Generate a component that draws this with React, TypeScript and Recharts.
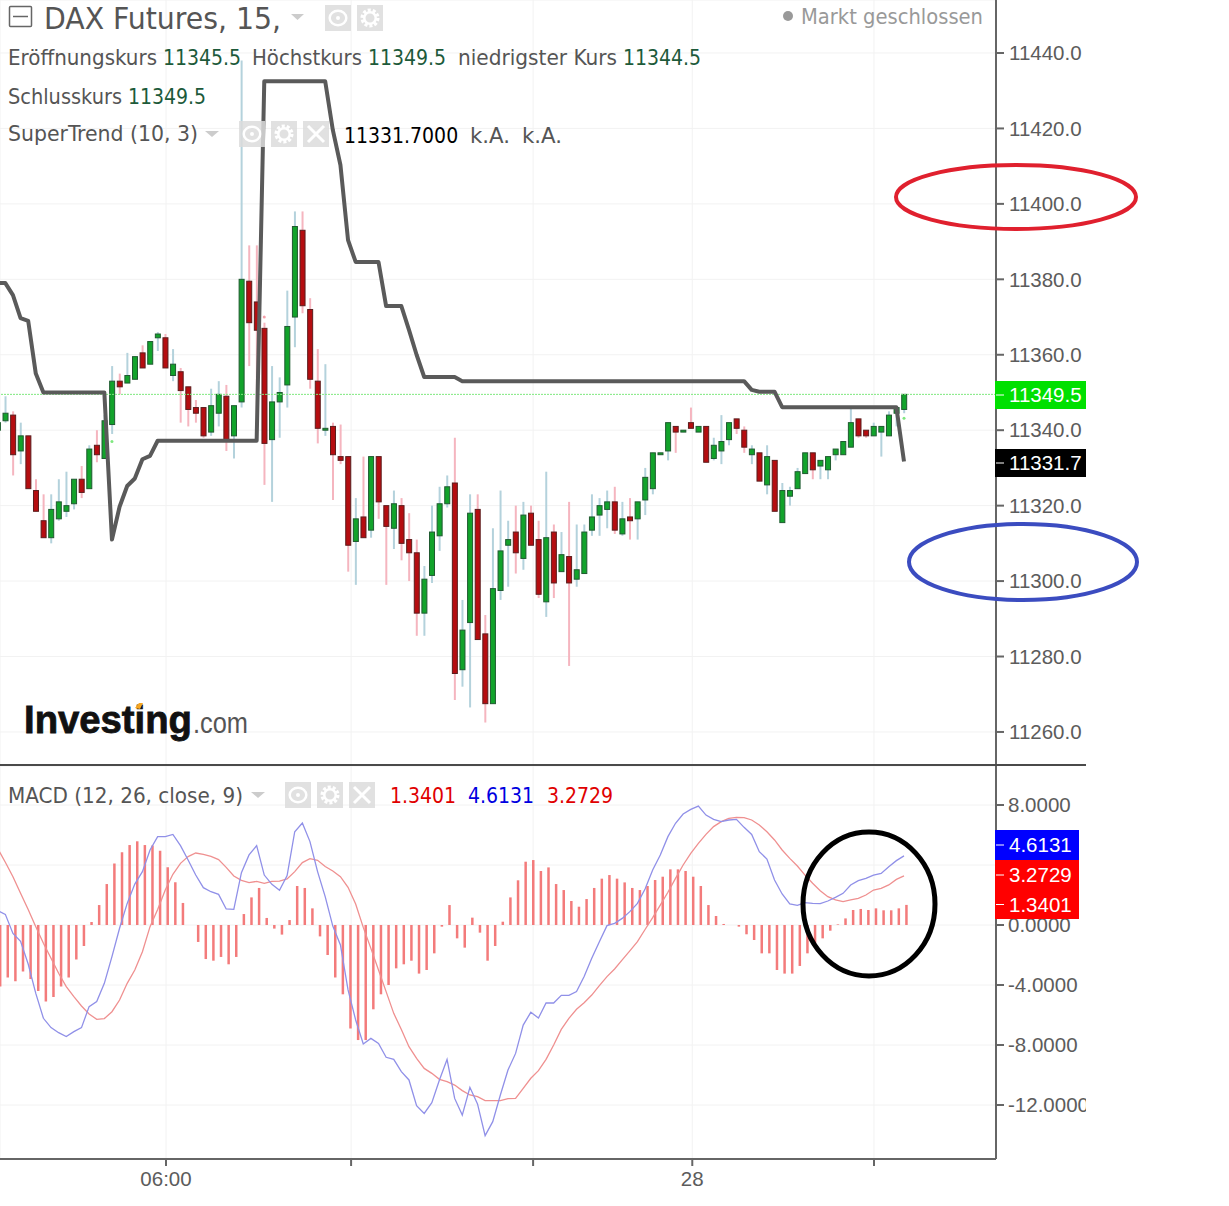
import React from 'react';
import { ComposedChart, Bar, Line, XAxis, YAxis, CartesianGrid, ReferenceLine, ReferenceDot } from 'recharts';

const opens = [
  11340, 11342.5, 11344, 11334.5, 11338.5, 11324, 11316, 11311.5, 11316.5, 11318.5,
  11320.5, 11327, 11324.5, 11336, 11332.5, 11341.5, 11353, 11352.5, 11353.5, 11360.5,
  11357.5, 11364.5, 11364.5, 11354.5, 11355.5, 11351.5, 11346, 11346, 11339.5, 11344.5,
  11349, 11338.5, 11347.5, 11379.5, 11374, 11367, 11337.5, 11347.5, 11352, 11370,
  11393, 11372, 11353, 11340, 11341, 11333, 11333, 11310.5, 11317, 11313.5,
  11333, 11320, 11314, 11320, 11311, 11307.5, 11291.5, 11301.5, 11312, 11320.5,
  11326, 11276.5, 11289, 11319, 11286, 11267.5, 11297.5, 11309.5, 11313, 11306,
  11318, 11311, 11294.5, 11313, 11302.5, 11306.5, 11300.5, 11302, 11313.5, 11317.5,
  11319, 11321, 11312.5, 11317, 11316.5, 11321.5, 11324.5, 11333.5, 11334.5, 11341,
  11339.5, 11342, 11339.5, 11341, 11332.5, 11334.5, 11337.5, 11343, 11340, 11333.5,
  11334, 11325.5, 11332, 11315.5, 11322.5, 11324.5, 11328.5, 11334, 11330.5, 11329.5,
  11333.5, 11333.5, 11335.5, 11343, 11340, 11338.5, 11339.5, 11338.5, 11344.5, 11345.5,
];
const highs = [
  11342.5, 11349, 11345, 11342, 11338.5, 11327, 11323, 11323, 11327, 11329,
  11327, 11330.5, 11336, 11340, 11344, 11357, 11355, 11360.5, 11359.5, 11362.5,
  11363.5, 11366, 11365.5, 11361.5, 11356.5, 11351.5, 11348, 11346, 11351, 11353,
  11352, 11346.5, 11438, 11389, 11389, 11368.5, 11357, 11354, 11377, 11398,
  11398, 11375, 11361.5, 11357.5, 11342, 11341.5, 11333, 11322, 11333, 11333,
  11333, 11320, 11324, 11322, 11318, 11311, 11304, 11320, 11325, 11328,
  11338, 11295, 11323, 11323, 11291, 11314, 11324, 11316, 11320, 11321,
  11320, 11316, 11329, 11315, 11313, 11321, 11315, 11315, 11323, 11322,
  11324, 11325, 11321, 11322, 11321, 11330, 11334, 11334, 11342, 11341,
  11340, 11346, 11341, 11341, 11338, 11344, 11342, 11343, 11341, 11336,
  11334, 11336, 11332, 11326, 11325, 11330, 11334, 11334, 11332, 11333,
  11335, 11337, 11346, 11343, 11340, 11342, 11341, 11345, 11346, 11349.5,
];
const lows = [
  11339, 11342, 11328, 11331, 11324.5, 11318.5, 11311.5, 11310, 11316, 11317,
  11319, 11322, 11324.5, 11331.5, 11332.5, 11339, 11349.5, 11352.5, 11353.5, 11356.5,
  11357.5, 11361, 11356.5, 11353, 11342, 11341, 11342, 11338, 11338.5, 11341,
  11334.5, 11332.5, 11346, 11357, 11343.5, 11325.5, 11321, 11338, 11346, 11362,
  11371, 11351, 11336.5, 11338.5, 11321.5, 11331, 11302.5, 11299, 11311.5, 11311.5,
  11316.5, 11299, 11308.5, 11305.5, 11300, 11285.5, 11285.5, 11299.5, 11308, 11319.5,
  11268.5, 11272, 11266.5, 11284.5, 11262.5, 11267.5, 11295, 11298.5, 11302, 11303,
  11309.5, 11295.5, 11290.5, 11295.5, 11302.5, 11277.5, 11298.5, 11302, 11312, 11312,
  11314, 11312.5, 11312, 11311, 11311, 11317.5, 11323, 11333.5, 11332, 11334,
  11339.5, 11340.5, 11339.5, 11331.5, 11332, 11331, 11336, 11339, 11334, 11331,
  11326.5, 11323, 11318.5, 11315.5, 11320, 11324.5, 11328.5, 11327, 11327, 11327,
  11332, 11333.5, 11335.5, 11338, 11338, 11338.5, 11333, 11338.5, 11341, 11344.5,
];
const closes = [
  11342, 11344.5, 11333.5, 11338.5, 11324.5, 11318.5, 11311.5, 11319, 11321, 11320,
  11327, 11323.5, 11335, 11333.5, 11342.5, 11353, 11351.5, 11354.5, 11359.5, 11356.5,
  11363.5, 11365.5, 11356.5, 11357.5, 11350.5, 11345.5, 11344.5, 11338.5, 11346.5, 11349.5,
  11337.5, 11346.5, 11380, 11368.5, 11366.5, 11336.5, 11347.5, 11350, 11367.5, 11394,
  11373, 11353.5, 11340.5, 11340.5, 11333.5, 11332, 11309.5, 11316.5, 11311.5, 11333,
  11321, 11314.5, 11320.5, 11310, 11307.5, 11291.5, 11300.5, 11313, 11320.5, 11325,
  11275.5, 11287, 11318, 11284.5, 11267.5, 11298, 11308, 11311, 11307.5, 11317.5,
  11309.5, 11296.5, 11311.5, 11299.5, 11307, 11299.5, 11303, 11313, 11317, 11320,
  11321, 11313.5, 11316.5, 11316, 11321, 11327.5, 11334, 11334, 11342, 11339.5,
  11340, 11340.5, 11341, 11331.5, 11336, 11337, 11342, 11340.5, 11335.5, 11335,
  11326.5, 11333, 11318.5, 11324, 11324, 11329, 11334, 11329.5, 11332, 11333,
  11335, 11337, 11342, 11338.5, 11338.5, 11341, 11341, 11344, 11346, 11349.5,
];
const superTrend = [
  11379, 11379, 11375.8, 11369.7, 11369, 11355, 11350, 11350, 11350, 11350,
  11350, 11350, 11350, 11350, 11350, 11311, 11319.7, 11325.2, 11327.2, 11332.3,
  11333.2, 11337.2, 11337.2, 11337.2, 11337.2, 11337.2, 11337.2, 11337.2, 11337.2, 11337.2,
  11337.2, 11337.2, 11337.2, 11337.2, 11337.2, 11432.5, 11432.5, 11432.5, 11432.5, 11432.5,
  11432.5, 11432.5, 11432.5, 11432.5, 11419.6, 11410.3, 11390.4, 11384.6, 11384.6, 11384.6,
  11384.6, 11372.9, 11372.9, 11372.9, 11366.6, 11360, 11354.1, 11354.1, 11354.1, 11354.1,
  11354.1, 11353, 11353, 11353, 11353, 11353, 11353, 11353, 11353, 11353,
  11353, 11353, 11353, 11353, 11353, 11353, 11353, 11353, 11353, 11353,
  11353, 11353, 11353, 11353, 11353, 11353, 11353, 11353, 11353, 11353,
  11353, 11353, 11353, 11353, 11353, 11353, 11353, 11353, 11353, 11350.7,
  11350.2, 11350.2, 11350.2, 11346.1, 11346.1, 11346.1, 11346.1, 11346.1, 11346.1, 11346.1,
  11346.1, 11346.1, 11346.1, 11346.1, 11346.1, 11346.1, 11346.1, 11346.1, 11346.1, 11331.7,
];
const histogram = [
  -4.1, -3.5, -3.75, -3.1, -3.6, -4.4, -5.1, -4.8, -4.1, -3.5,
  -2.3, -1.4, 0.2, 1.33, 2.73, 4.1, 4.85, 5.33, 5.58, 5.33,
  5.3, 4.95, 3.85, 2.85, 1.47, 0, -1.13, -2.27, -2.38, -2.13,
  -2.62, -2.13, 0.73, 1.84, 2.47, 0.47, -0.24, -0.64, 0.33, 2.6,
  2.47, 1.11, -0.76, -2, -3.5, -4.62, -6.9, -7.67, -7.67, -5.62,
  -4.62, -4, -2.89, -2.62, -2.38, -3.24, -3, -1.89, -0.11, 1.33,
  -0.89, -1.51, 0.49, -0.51, -2.38, -1.4, 0.22, 1.84, 2.98, 4.22,
  4.33, 3.6, 3.84, 2.73, 2.33, 1.6, 1.22, 1.73, 2.47, 3.09,
  3.33, 3.09, 2.84, 2.47, 2.33, 2.6, 3, 3.22, 3.71, 3.71,
  3.6, 3.22, 2.6, 1.33, 0.6, 0.07, 0, -0.11, -0.62, -1,
  -1.89, -1.89, -3, -3.24, -3.24, -2.73, -1.89, -1.22, -0.89, -0.38,
  0.04, 0.44, 1, 1.07, 1, 1.11, 0.98, 0.98, 1.11, 1.34,
];
const macdLine = [
  0.96, 0.71, -0.56, -1.09, -2.6, -4.56, -6.22, -6.84, -7.18, -7.44,
  -7.11, -6.84, -5.44, -5.1, -3.89, -2.11, -0.22, 1.44, 2.73, 3.56,
  5, 5.89, 5.89, 6.04, 5.29, 4.33, 3.33, 2.49, 2.22, 2.04,
  1.07, 1.04, 3.49, 4.67, 5.29, 3.33, 2.71, 2.31, 3.29, 6.22,
  6.8, 5.56, 3.56, 1.89, -0.07, -1.33, -4.33, -6.33, -7.93, -7.56,
  -7.89, -8.82, -8.96, -9.78, -10.33, -12.04, -12.56, -11.84, -10.33, -8.96,
  -11.56, -12.67, -10.82, -11.93, -14.04, -13.11, -11.33, -9.67, -8.56, -6.67,
  -5.82, -6.2, -5.2, -5.2, -4.69, -4.69, -4.44, -3.44, -2.22, -1.11,
  -0.04, 0.11, 0.44, 0.89, 1.44, 2.4, 3.67, 4.67, 5.89, 6.78,
  7.4, 7.71, 7.93, 7.33, 7.04, 6.89, 7, 7.04, 6.51, 6.04,
  4.89, 4.4, 3, 2.07, 1.4, 1.31, 1.49, 1.44, 1.42, 1.6,
  1.84, 2.11, 2.67, 2.96, 3.11, 3.33, 3.44, 3.89, 4.29, 4.61,
];
const signalLine = [
  5.11, 4.18, 3.22, 2.11, 1.04, -0.11, -1.22, -2.22, -3.22, -4.11,
  -4.78, -5.4, -5.93, -6.29, -6.24, -5.78, -5, -3.89, -3, -1.78,
  -0.11, 1.04, 2.33, 3.38, 4.11, 4.56, 4.8, 4.71, 4.58, 4.36,
  3.84, 3.27, 2.98, 2.82, 2.91, 2.78, 2.91, 2.93, 3.07, 3.56,
  4.16, 4.42, 4.31, 3.9, 3.6, 3.22, 2.51, 1.4, -0.16, -1.56,
  -3, -4.44, -5.89, -6.96, -8.11, -8.89, -9.56, -9.89, -10.29, -10.44,
  -10.67, -11.04, -11.33, -11.44, -11.71, -11.71, -11.71, -11.58, -11.56, -10.89,
  -10.22, -9.71, -8.96, -8, -6.96, -6.22, -5.62, -5.18, -4.67, -4.04,
  -3.44, -2.93, -2.33, -1.73, -1.11, -0.3, 0.49, 1.33, 2.18, 3.11,
  4, 4.78, 5.44, 6.04, 6.56, 6.89, 7.11, 7.18, 7.16, 7,
  6.67, 6.22, 5.67, 5, 4.44, 3.93, 3.33, 2.78, 2.29, 1.89,
  1.67, 1.56, 1.67, 1.78, 2, 2.33, 2.44, 2.67, 3.04, 3.27,
];

const priceTicks = [11260, 11280, 11300, 11320, 11340, 11360, 11380, 11400, 11420, 11440];
const macdTicks = [-12, -8, -4, 0, 4, 8];
const timeTicks = [22.1, 46.4, 70.3, 91.2, 115.06];
const timeLabels = ['06:00', '', '', '28', ''];

const candles = opens.map((o, i) => ({
  idx: i,
  open: o,
  close: closes[i],
  range: [lows[i], highs[i]],
  superTrend: superTrend[i],
}));
const macdRows = histogram.map((h, i) => ({ idx: i, hist: h, macd: macdLine[i], signal: signalLine[i] }));

const X_DOMAIN: [number, number] = [0.3, 131.08];
// histogram sits 2px right of the lines in the original
const HIST_DOMAIN: [number, number] = [0.3 - 0.263, 131.08 - 0.263];
const AXIS_FONT = '"Liberation Sans", Arial, sans-serif';
const UI_FONT = '"DejaVu Sans Condensed", "DejaVu Sans", sans-serif';

const Candle = (props: any) => {
  const { x, y, width, height, payload } = props;
  const [low, high] = payload.range;
  const unit = height / (high - low);
  const up = payload.close >= payload.open;
  const top = y + (high - Math.max(payload.open, payload.close)) * unit;
  const bottom = y + (high - Math.min(payload.open, payload.close)) * unit;
  const cx = x + width / 2;
  return (
    <g>
      <line x1={cx} x2={cx} y1={y} y2={y + height} stroke={up ? '#b4d2dc' : '#f5b5bf'} strokeWidth={2} />
      <rect
        x={cx - 2.5}
        y={top}
        width={5}
        height={Math.max(bottom - top, 1)}
        fill={up ? '#12a32b' : '#b50d10'}
        stroke={up ? '#1f5a30' : '#5a1d1d'}
        strokeWidth={1}
      />
    </g>
  );
};

const axisTick = { fill: '#5c5c5c', fontSize: 20.5, fontFamily: AXIS_FONT };

const T = ({ x, y, size = 21, fill = '#555', font = UI_FONT, len, children, ...rest }: any) => (
  <text
    x={x}
    y={y}
    fontSize={size}
    fill={fill}
    fontFamily={font}
    textLength={len}
    lengthAdjust={len ? 'spacingAndGlyphs' : undefined}
    {...rest}
  >
    {children}
  </text>
);

const IconBox = ({ x, y, size, kind }: any) => {
  const cx = x + size / 2;
  const cy = y + size / 2;
  return (
    <g opacity={0.85}>
      <rect x={x} y={y} width={size} height={size} fill="#dcdcdc" />
      {kind === 'eye' && (
        <g>
          <ellipse cx={cx} cy={cy} rx={size * 0.32} ry={size * 0.28} fill="none" stroke="#fff" strokeWidth={2.5} />
          <circle cx={cx} cy={cy} r={2} fill="#fff" />
        </g>
      )}
      {kind === 'gear' && (
        <g>
          <circle cx={cx} cy={cy} r={size * 0.3} fill="none" stroke="#fff" strokeWidth={3.5} strokeDasharray="3 1.9" />
          <circle cx={cx} cy={cy} r={size * 0.22} fill="none" stroke="#fff" strokeWidth={2.5} />
        </g>
      )}
      {kind === 'x' && (
        <path d={`M${x + 5} ${y + 5}L${x + size - 5} ${y + size - 5}M${x + size - 5} ${y + 5}L${x + 5} ${y + size - 5}`} stroke="#fff" strokeWidth={3} />
      )}
    </g>
  );
};

const Tag = ({ y, h, w, fill, text }: any) => (
  <g>
    <rect x={995} y={y} width={w + 1} height={h} fill={fill} />
    <line x1={996} x2={1004} y1={y + h / 2} y2={y + h / 2} stroke="#fff" strokeWidth={1} />
    <T x={1009} y={y + h / 2 + 7} size={20.5} fill="#fff" font={AXIS_FONT}>{text}</T>
  </g>
);

const App = () => {
  return (
    <div style={{ position: 'absolute', left: 0, top: 0, width: 1229, height: 1206, background: '#fff', overflow: 'hidden' }}>
      <div style={{ position: 'absolute', left: 0, top: 0 }}>
        <ComposedChart width={1086} height={765} data={candles} margin={{ top: 0, right: 0, bottom: 0, left: 0 }}>
          <CartesianGrid stroke="#f2f2f2" strokeWidth={1} />
          <XAxis dataKey="idx" type="number" domain={X_DOMAIN} allowDataOverflow ticks={timeTicks} hide />
          <YAxis
            orientation="right"
            width={90}
            domain={[11251.24, 11454.05]}
            allowDataOverflow
            ticks={priceTicks}
            interval={0}
            tickFormatter={(v: number) => v.toFixed(1)}
            tick={axisTick}
            tickSize={8}
            tickMargin={5}
            axisLine={{ stroke: '#666', strokeWidth: 2 }}
            tickLine={{ stroke: '#666', strokeWidth: 2 }}
          />
          <ReferenceLine y={11349.5} stroke="#7fe87f" strokeDasharray="2 1" />
          <Line dataKey="superTrend" stroke="#5a5a5a" strokeWidth={4} dot={false} isAnimationActive={false} strokeLinejoin="round" />
          <Bar dataKey="range" barSize={6} shape={<Candle />} isAnimationActive={false} />
          <ReferenceDot x={35} y={11370} r={1.5} fill="#f5a0aa" stroke="none" />
          <ReferenceDot x={15} y={11337} r={1.5} fill="#7fe87f" stroke="none" />
          <ReferenceDot x={119} y={11343.2} r={1.5} fill="#7fe87f" stroke="none" />
        </ComposedChart>
      </div>
      <div style={{ position: 'absolute', left: 0, top: 766 }}>
        <ComposedChart width={1086} height={440} data={macdRows} margin={{ top: 0, right: 0, bottom: 0, left: 0 }}>
          <CartesianGrid stroke="#f2f2f2" strokeWidth={1} />
          <XAxis
            dataKey="idx"
            type="number"
            domain={X_DOMAIN}
            allowDataOverflow
            ticks={timeTicks}
            interval={0}
            height={47}
            tickFormatter={(v: number) => timeLabels[timeTicks.indexOf(v)]}
            tick={axisTick}
            tickSize={7}
            tickMargin={5}
            axisLine={{ stroke: '#666', strokeWidth: 2 }}
            tickLine={{ stroke: '#666', strokeWidth: 2 }}
          />
          <XAxis xAxisId="hist" dataKey="idx" type="number" domain={HIST_DOMAIN} allowDataOverflow hide />
          <YAxis
            orientation="right"
            width={90}
            domain={[-15.6, 10.6]}
            allowDataOverflow
            ticks={macdTicks}
            interval={0}
            tickFormatter={(v: number) => (v === 4 ? '' : v.toFixed(4))}
            tick={axisTick}
            tickSize={8}
            tickMargin={4}
            axisLine={{ stroke: '#666', strokeWidth: 2 }}
            tickLine={{ stroke: '#666', strokeWidth: 2 }}
          />
          <Bar xAxisId="hist" dataKey="hist" fill="#f37b7b" barSize={2.5} isAnimationActive={false} />
          <Line dataKey="signal" stroke="#ef9090" strokeWidth={1.3} dot={false} isAnimationActive={false} />
          <Line dataKey="macd" stroke="#9090e8" strokeWidth={1.3} dot={false} isAnimationActive={false} />
        </ComposedChart>
      </div>

      <svg width={1229} height={1206} style={{ position: 'absolute', left: 0, top: 0, pointerEvents: 'none' }}>
        <line x1={0} x2={1086} y1={765} y2={765} stroke="#4a4a4a" strokeWidth={2} />

        <rect x={9.5} y={6.5} width={22} height={20} fill="none" stroke="#666" strokeWidth={1.5} rx={1} />
        <line x1={13} x2={28} y1={16.5} y2={16.5} stroke="#666" strokeWidth={1.5} />
        <T x={44} y={29} size={31} len={237}>DAX Futures, 15,</T>
        <path d="M291 14h13l-6.5 6z" fill="#ccc" />
        <IconBox x={325} y={5} size={26} kind="eye" />
        <IconBox x={357} y={5} size={26} kind="gear" />
        <circle cx={788} cy={16} r={5} fill="#999" />
        <T x={801} y={24} fill="#999" len={182}>Markt geschlossen</T>

        <T x={8} y={65} len={149}>Eröffnungskurs</T>
        <T x={163} y={65} fill="#1d5a3a">11345.5</T>
        <T x={252} y={65} len={110}>Höchstkurs</T>
        <T x={368} y={65} fill="#1d5a3a">11349.5</T>
        <T x={458} y={65} len={159}>niedrigster Kurs</T>
        <T x={623} y={65} fill="#1d5a3a">11344.5</T>
        <T x={8} y={104} len={114}>Schlusskurs</T>
        <T x={128} y={104} fill="#1d5a3a">11349.5</T>
        <T x={8} y={141} len={190}>SuperTrend (10, 3)</T>
        <path d="M205 131h14l-7 6z" fill="#ccc" />
        <IconBox x={239} y={121} size={26} kind="eye" />
        <IconBox x={271} y={121} size={26} kind="gear" />
        <IconBox x={303} y={121} size={26} kind="x" />
        <T x={344} y={143} fill="#000">11331.7000</T>
        <T x={470} y={143} len={40}>k.A.</T>
        <T x={522} y={143} len={40}>k.A.</T>

        <T x={24} y={733} size={38} fontWeight="bold" fill="#111" stroke="#111" strokeWidth={0.8} font={AXIS_FONT} len={168}>Investing</T>
        <path d="M135 708l4-5h4l-3 6z" fill="#f5a623" />
        <T x={193} y={733} size={29} fill="#555" font={AXIS_FONT} len={55}>.com</T>

        <T x={8} y={803} len={235}>MACD (12, 26, close, 9)</T>
        <path d="M251 792h14l-7 6z" fill="#ccc" />
        <IconBox x={285} y={782} size={26} kind="eye" />
        <IconBox x={317} y={782} size={26} kind="gear" />
        <IconBox x={349} y={782} size={26} kind="x" />
        <T x={390} y={803} fill="#e00000">1.3401</T>
        <T x={468} y={803} fill="#0000e0">4.6131</T>
        <T x={547} y={803} fill="#e00000">3.2729</T>

        <Tag y={381} h={28} w={90} fill="#00e000" text="11349.5" />
        <Tag y={449} h={28} w={90} fill="#000" text="11331.7" />
        <Tag y={830} h={30} w={83} fill="#0000ff" text="4.6131" />
        <Tag y={860} h={30} w={83} fill="#ff0000" text="3.2729" />
        <Tag y={890} h={29} w={83} fill="#ff0000" text="1.3401" />

        <ellipse cx={1016} cy={197} rx={120} ry={32} fill="none" stroke="#e0202e" strokeWidth={4} />
        <ellipse cx={1023} cy={562} rx={114} ry={38} fill="none" stroke="#3b4cc0" strokeWidth={4} />
        <ellipse cx={869} cy={904} rx={66} ry={72} fill="none" stroke="#000" strokeWidth={5} />
      </svg>
    </div>
  );
};

export default App;
